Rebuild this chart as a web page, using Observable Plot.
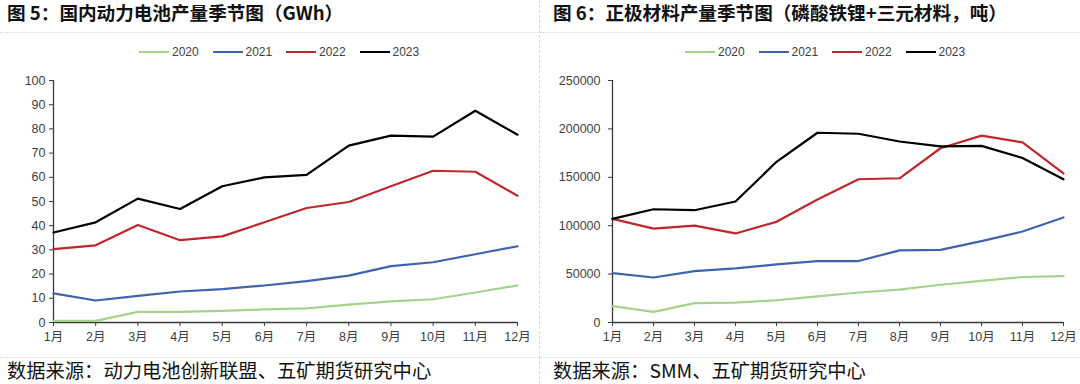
<!DOCTYPE html>
<html>
<head>
<meta charset="utf-8">
<script src="https://cdn.jsdelivr.net/npm/d3@7"></script>
<script src="https://cdn.jsdelivr.net/npm/@observablehq/plot@0.6"></script>
<style>
  html, body { margin: 0; padding: 0; background: #fff; }
  body { width: 1080px; height: 384px; position: relative; overflow: hidden; font-family: "Liberation Sans", "Noto Sans CJK SC", sans-serif; }
  .panel { position: absolute; top: 0; width: 540px; height: 384px; }
  .title { position: absolute; top: 0; height: 24px; line-height: 24px; font-family: "Noto Sans CJK SC", sans-serif; font-weight: bold; font-size: 18.6px; color: #111; white-space: nowrap; }
  .hr { position: absolute; left: 0; width: 540px; border-top: 1px dotted #d4d4d4; }
  .caption { position: absolute; top: 358px; height: 24px; line-height: 24px; font-family: "Noto Sans CJK SC", sans-serif; font-size: 19.3px; color: #111; white-space: nowrap; }
  .legend { position: absolute; top: 44px; height: 16px; display: flex; align-items: center; font-size: 12px; color: #404040; }
  .legend .item { display: flex; align-items: center; margin-right: 13.8px; }
  .legend .sw { width: 30px; height: 2.5px; margin-right: 3px; }
  .plot { position: absolute; top: 62px; left: 0; }
  .vsep { position: absolute; left: 539px; top: 0; height: 384px; border-left: 1px dashed #d8d8d8; }
</style>
</head>
<body>
<script>
const monthLabels = ["1月","2月","3月","4月","5月","6月","7月","8月","9月","10月","11月","12月"];
const years = ["2020","2021","2022","2023"];
const colors = ["#a5d38c","#3f63ad","#c0272d","#000000"];

// 图5 国内动力电池产量 (GWh)
const battery2020 = [0.7,0.7,4.4,4.4,4.8,5.4,5.8,7.4,8.7,9.6,12.4,15.3];
const battery2021 = [12.0,9.1,11.0,12.8,13.8,15.3,17.1,19.4,23.3,24.9,28.2,31.5];
const battery2022 = [30.3,31.9,40.3,34.0,35.6,41.4,47.3,49.8,56.3,62.7,62.3,52.4];
const battery2023 = [37.2,41.4,51.2,46.9,56.3,60.0,61.0,73.1,77.2,76.8,87.5,77.6];
const batteryTicks = [0,10,20,30,40,50,60,70,80,90,100];

// 图6 正极材料产量 (吨)
const cathode2020 = [17000,11000,20000,20500,23000,27000,31000,34000,39000,43000,47000,48000];
const cathode2021 = [51000,46500,53000,56000,60000,63500,63500,74500,75000,84000,94000,108500];
const cathode2022 = [107000,97000,100000,92000,104000,127000,148000,149000,180000,193000,186000,154000];
const cathode2023 = [107000,117000,116000,125000,166000,196000,195000,187000,182000,182500,170000,148000];
const cathodeTicks = [0,50000,100000,150000,200000,250000];

function toRows(seriesList) {
  const rows = [];
  seriesList.forEach((vals, i) => {
    vals.forEach((v, j) => rows.push({year: years[i], m: j + 1, v}));
  });
  return rows;
}

function makePlot(rows, ticks, yMax, marginLeft, marginRight, tickPad) {
  const axisColor = "#3a3a3a";
  return Plot.plot({
    width: 540,
    height: 295,
    marginTop: 18,
    marginBottom: 35,
    marginLeft,
    marginRight,
    style: {fontFamily: "'Liberation Sans','Noto Sans CJK SC',sans-serif", fontSize: "12.5px", color: "#404040", background: "transparent", overflow: "visible"},
    x: {type: "linear", domain: [1, 12]},
    y: {domain: [0, yMax]},
    color: {domain: years, range: colors},
    marks: [
      Plot.axisX({ticks: d3.range(1, 13), tickFormat: d => monthLabels[d - 1], tickSize: 4, tickPadding: 6, stroke: axisColor, label: null}),
      Plot.axisY({ticks, tickFormat: d => String(d), tickSize: 4, tickPadding: tickPad, stroke: axisColor, label: null}),
      Plot.ruleX([1], {stroke: axisColor, strokeWidth: 1.3}),
      Plot.ruleY([0], {stroke: axisColor, strokeWidth: 1.3}),
      Plot.line(rows, {x: "m", y: "v", z: "year", stroke: "year", strokeWidth: 2.2, curve: "linear"})
    ]
  });
}

function buildPanel(left, titleText, titleLeft, captionText, legendLeft, plotEl) {
  const p = document.createElement("div");
  p.className = "panel";
  p.style.left = left + "px";
  const t = document.createElement("div");
  t.className = "title"; t.style.left = titleLeft + "px"; t.textContent = titleText;
  p.appendChild(t);
  const hr1 = document.createElement("div"); hr1.className = "hr"; hr1.style.top = "32px"; p.appendChild(hr1);
  const lg = document.createElement("div"); lg.className = "legend"; lg.style.left = legendLeft + "px";
  years.forEach((y, i) => {
    const it = document.createElement("div"); it.className = "item";
    const sw = document.createElement("div"); sw.className = "sw"; sw.style.background = colors[i];
    const tx = document.createElement("span"); tx.textContent = y;
    it.appendChild(sw); it.appendChild(tx); lg.appendChild(it);
  });
  p.appendChild(lg);
  const holder = document.createElement("div"); holder.className = "plot"; holder.appendChild(plotEl); p.appendChild(holder);
  const hr2 = document.createElement("div"); hr2.className = "hr"; hr2.style.top = "357px"; p.appendChild(hr2);
  const c = document.createElement("div"); c.className = "caption"; c.style.left = titleLeft + "px"; c.textContent = captionText;
  p.appendChild(c);
  document.body.appendChild(p);
}

const plot1 = makePlot(toRows([battery2020, battery2021, battery2022, battery2023]), batteryTicks, 100, 53, 23, 4);
const plot2 = makePlot(toRows([cathode2020, cathode2021, cathode2022, cathode2023]), cathodeTicks, 250000, 72, 17, 8);

buildPanel(0, "图 5：国内动力电池产量季节图（GWh）", 7, "数据来源：动力电池创新联盟、五矿期货研究中心", 139, plot1);
buildPanel(540, "图 6：正极材料产量季节图（磷酸铁锂+三元材料，吨）", 13, "数据来源：SMM、五矿期货研究中心", 145, plot2);

const vs = document.createElement("div"); vs.className = "vsep"; document.body.appendChild(vs);
</script>
</body>
</html>
